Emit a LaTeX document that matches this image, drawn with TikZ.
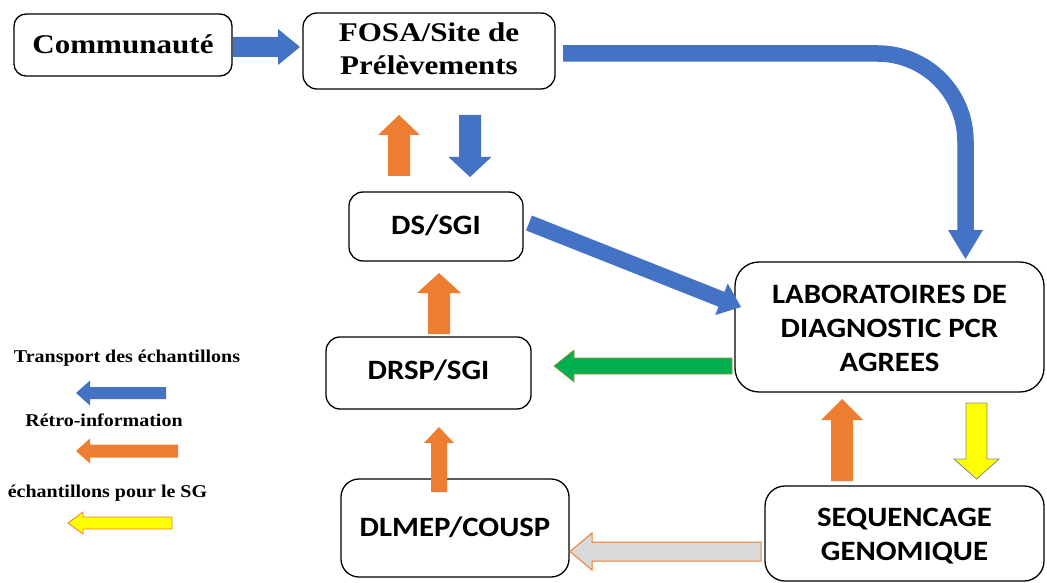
\documentclass[tikz,border=0pt]{standalone}
\usepackage{fontspec}
\setmainfont{Liberation Serif}
\newfontfamily\calib{Carlito}
\usetikzlibrary{calc}
\definecolor{cblue}{HTML}{4472C4}
\definecolor{corange}{HTML}{ED7D31}
\definecolor{cgreen}{HTML}{00B050}
\definecolor{cyellow}{HTML}{FFFF00}
\definecolor{cgrey}{HTML}{D9D9D9}
\definecolor{cyedge}{HTML}{7F8A8F}
% block arrow: style, tail, tip, half shaft, half head, head length
\newcommand\barr[6]{%
  \coordinate (bA) at (#2); \coordinate (bB) at (#3);
  \coordinate (bP) at ($(bB)!#6pt!(bA)$);
  \path[#1] ($(bA)!#4pt!90:(bB)$) -- ($(bP)!#4pt!90:(bB)$) -- ($(bP)!#5pt!90:(bB)$) -- (bB)
    -- ($(bP)!#5pt!-90:(bB)$) -- ($(bP)!#4pt!-90:(bB)$) -- ($(bA)!#4pt!-90:(bB)$) -- cycle;
}
\newcommand\wtxt[2]{\scalebox{#1}[1]{\begin{tabular}{@{}c@{}}#2\end{tabular}}}
\begin{document}
\begin{tikzpicture}[x=1pt,y=-1pt,
  box/.style={draw=black, line width=1.3pt, fill=white, inner sep=0pt},
  serift/.style={font=\bfseries\fontsize{27}{33}\selectfont},
  sanst/.style={font=\calib\bfseries\fontsize{28}{34}\selectfont},
  legt/.style={font=\bfseries\fontsize{18}{20}\selectfont},
  blueA/.style={fill=cblue},
  orangeA/.style={fill=corange},
  greenA/.style={fill=cgreen, draw=corange!70!cgreen, line width=0.6pt},
  yellowA/.style={fill=cyellow, draw=cyedge, line width=0.8pt},
  yellowL/.style={fill=cyellow, draw=corange, line width=0.8pt},
  greyA/.style={fill=cgrey, draw=corange, line width=1pt}]
\useasboundingbox (0,0) rectangle (1047,583);

% boxes
\node[box, rounded corners=12pt, minimum width=218pt, minimum height=62pt, serift] (comm) at (123,45) {\wtxt{1.15}{\rule{0pt}{26pt}Communauté}};
\node[box, rounded corners=14pt, minimum width=252pt, minimum height=76pt, serift] (fosa) at (429,51) {\wtxt{1.15}{FOSA/Site de\\Prélèvements}};
\node[box, rounded corners=14pt, minimum width=174pt, minimum height=69pt, sanst] (ds) at (436,226.5) {\wtxt{1.1}{\rule{0pt}{27pt}DS/SGI}};
\node[box, rounded corners=14pt, minimum width=205pt, minimum height=72pt, sanst] (drsp) at (428.5,373) {\wtxt{1.1}{DRSP/SGI}};
\node[box, rounded corners=18pt, minimum width=228pt, minimum height=98pt, sanst] (dlmep) at (455,528) {\wtxt{1.1}{\rule{0pt}{28pt}DLMEP/COUSP}};
\node[box, rounded corners=24pt, minimum width=309pt, minimum height=130pt, sanst] (lab) at (889.5,327) {\wtxt{1.1}{\rule{0pt}{31pt}LABORATOIRES DE\\DIAGNOSTIC PCR\\AGREES}};
\node[box, rounded corners=20pt, minimum width=279pt, minimum height=95pt, sanst] (seq) at (904.5,533.5) {\wtxt{1.1}{\rule{0pt}{31pt}SEQUENCAGE\\GENOMIQUE}};

% arrows
\barr{blueA}{233,47}{300,47}{10}{18}{22}
\barr{orangeA}{399,176}{399,115}{11}{21}{20}
\barr{blueA}{470,115}{470,177}{11}{21.5}{20}
\barr{blueA}{529,223}{741,307}{8}{17}{21}
\coordinate (cstart) at (563,53.5);
\coordinate (cend) at (965.5,232);
\coordinate (ctip) at (965.5,259);
\draw[cblue, line width=16.5pt, rounded corners=88pt] (cstart) -| (cend);
\fill[cblue] ($(cend)+(-17.5,-2)$) -- ($(cend)+(17.5,-2)$) -- (ctip) -- cycle;
\barr{orangeA}{439,334}{439,273}{11}{22}{20}
\barr{orangeA}{439,492}{439,427}{8}{15}{16}
\barr{greenA}{732,366}{554,366}{8}{16}{20}
\barr{orangeA}{842,481}{842,399}{11}{21}{21}
\barr{yellowA}{976.5,403}{976.5,479}{10.5}{22.5}{20}
\barr{greyA}{761,551.5}{570,551.5}{9.5}{18.5}{22}

% legend
\node[legt] (l1) at (127,358) {\wtxt{1.11}{Transport des échantillons}};
\barr{blueA}{166,393}{76,393}{6}{12.5}{14}
\node[legt] (l2) at (104,422) {\wtxt{1.11}{Rétro-information}};
\barr{orangeA}{178,451}{76,451}{6.5}{12.5}{14}
\node[legt] (l3) at (107.5,493) {\wtxt{1.11}{échantillons pour le SG}};
\barr{yellowL}{172,523}{68,523}{6}{11}{15}
\end{tikzpicture}
\end{document}
